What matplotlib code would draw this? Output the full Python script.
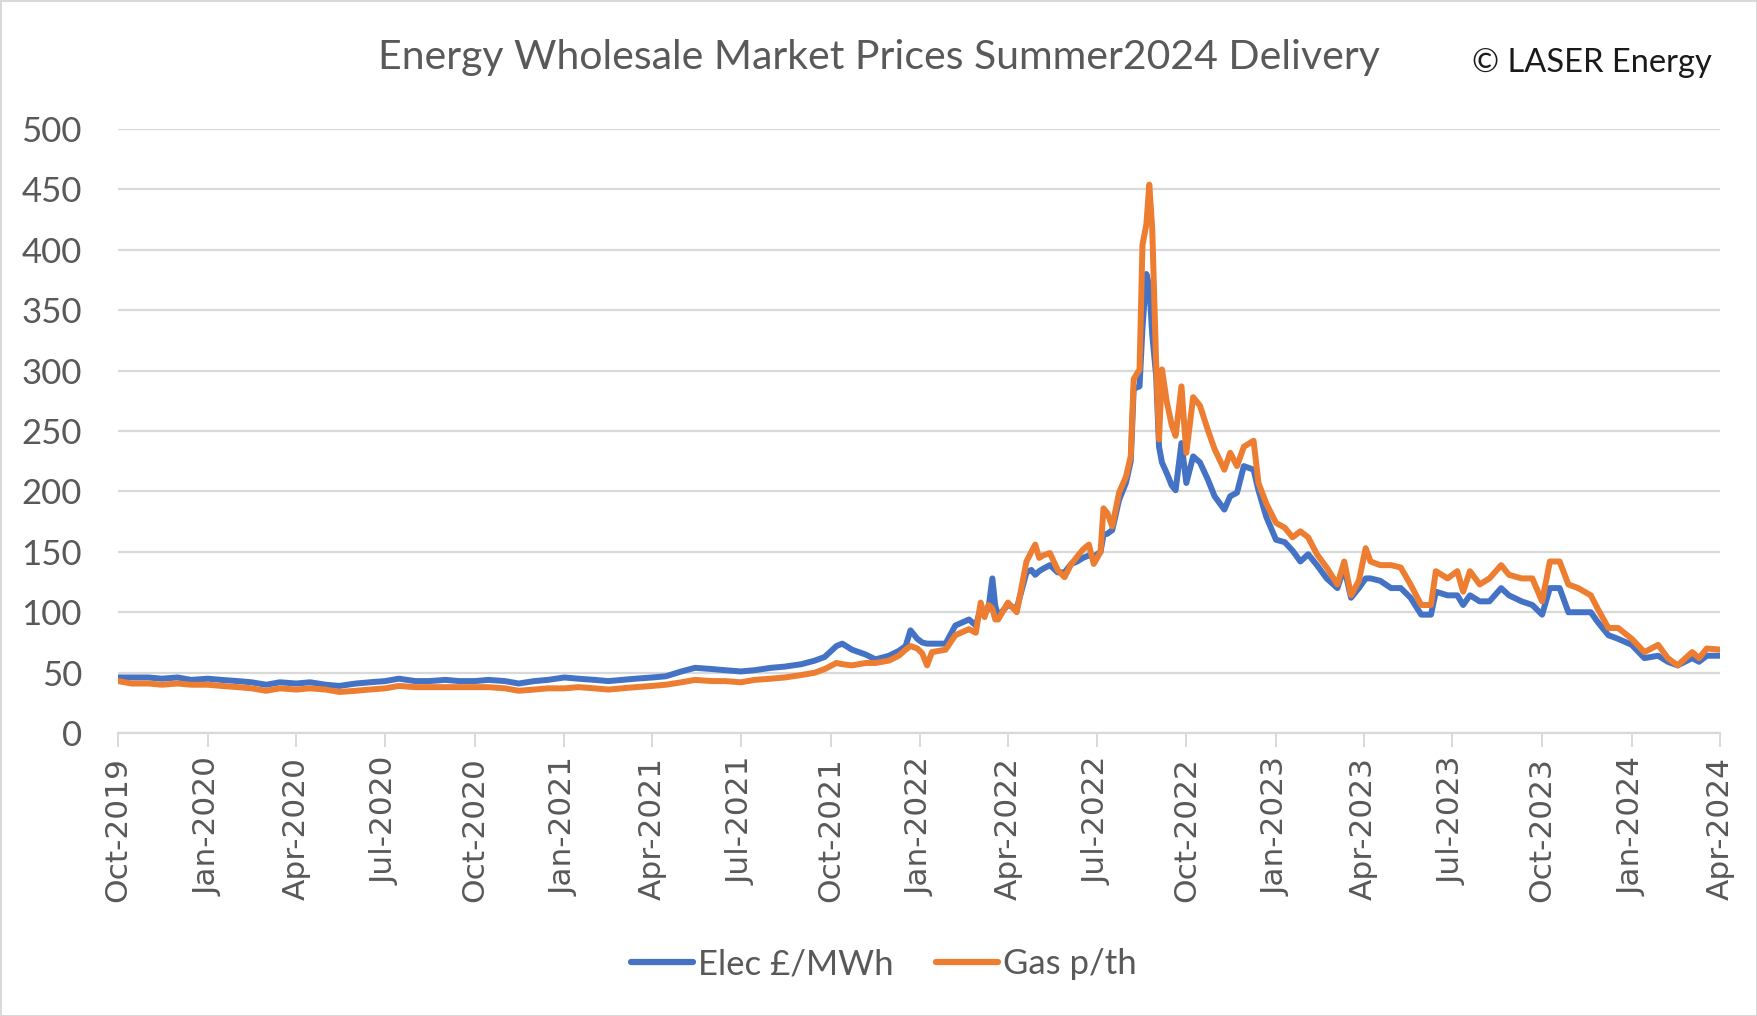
import matplotlib
matplotlib.use("Agg")
import matplotlib.pyplot as plt
import matplotlib.dates as mdates
import pandas as pd

# Values (Summer 2024 delivery contract)
dates = [
    "2019-10-01", "2019-10-15", "2019-11-01", "2019-11-15", "2019-12-01", "2019-12-15",
    "2020-01-01", "2020-01-15", "2020-02-01", "2020-02-15", "2020-03-01", "2020-03-15",
    "2020-04-01", "2020-04-15", "2020-05-01", "2020-05-15", "2020-06-01", "2020-06-15",
    "2020-07-01", "2020-07-15", "2020-08-01", "2020-08-15", "2020-09-01", "2020-09-15",
    "2020-10-01", "2020-10-15", "2020-11-01", "2020-11-15", "2020-12-01", "2020-12-15",
    "2021-01-01", "2021-01-15", "2021-02-01", "2021-02-15", "2021-03-01", "2021-03-15",
    "2021-04-01", "2021-04-15", "2021-05-01", "2021-05-15", "2021-06-01", "2021-06-15",
    "2021-07-01", "2021-07-15", "2021-08-01", "2021-08-15", "2021-09-01", "2021-09-15",
    "2021-09-25", "2021-10-07", "2021-10-13", "2021-10-23", "2021-11-06", "2021-11-16",
    "2021-11-30", "2021-12-10", "2021-12-17", "2021-12-22", "2021-12-29", "2022-01-03",
    "2022-01-08", "2022-01-13", "2022-01-27", "2022-02-06", "2022-02-20", "2022-02-27",
    "2022-03-04", "2022-03-08", "2022-03-12", "2022-03-16", "2022-03-19", "2022-03-22",
    "2022-04-01", "2022-04-10", "2022-04-20", "2022-04-25", "2022-04-29", "2022-05-03",
    "2022-05-07", "2022-05-14", "2022-05-22", "2022-05-29", "2022-06-05", "2022-06-11",
    "2022-06-17", "2022-06-23", "2022-06-28", "2022-07-05", "2022-07-08", "2022-07-12",
    "2022-07-17", "2022-07-24", "2022-07-31", "2022-08-05", "2022-08-08", "2022-08-14",
    "2022-08-17", "2022-08-21", "2022-08-24", "2022-08-27", "2022-08-31", "2022-09-03",
    "2022-09-06", "2022-09-11", "2022-09-16", "2022-09-20", "2022-09-26", "2022-10-01",
    "2022-10-08", "2022-10-15", "2022-10-23", "2022-10-30", "2022-11-09", "2022-11-15",
    "2022-11-22", "2022-11-29", "2022-12-09", "2022-12-14", "2022-12-22", "2023-01-01",
    "2023-01-10", "2023-01-18", "2023-01-26", "2023-02-03", "2023-02-12", "2023-02-22",
    "2023-03-05", "2023-03-12", "2023-03-19", "2023-03-27", "2023-04-03", "2023-04-08",
    "2023-04-18", "2023-04-29", "2023-05-09", "2023-05-19", "2023-05-30", "2023-06-09",
    "2023-06-14", "2023-06-26", "2023-07-06", "2023-07-12", "2023-07-19", "2023-07-29",
    "2023-08-08", "2023-08-20", "2023-08-28", "2023-09-10", "2023-09-21", "2023-10-01",
    "2023-10-09", "2023-10-19", "2023-10-28", "2023-11-07", "2023-11-20", "2023-11-27",
    "2023-12-08", "2023-12-18", "2024-01-01", "2024-01-14", "2024-01-28", "2024-02-07",
    "2024-02-17", "2024-03-03", "2024-03-10", "2024-03-18", "2024-04-01",
]

elec = [
    46, 46, 46, 45, 46, 44,
    45, 44, 43, 42, 40, 42,
    41, 42, 40, 39, 41, 42,
    43, 45, 43, 43, 44, 43,
    43, 44, 43, 41, 43, 44,
    46, 45, 44, 43, 44, 45,
    46, 47, 51, 54, 53, 52,
    51, 52, 54, 55, 57, 60,
    63, 72, 74, 69, 65, 61,
    64, 68, 72, 85, 78, 75,
    74, 74, 74, 89, 94, 89,
    103, 99, 103, 128, 105, 97,
    106, 103, 133, 135, 131, 134,
    136, 139, 133, 133, 140, 142,
    145, 147, 146, 150, 164, 165,
    168, 193, 207, 225, 285, 287,
    335, 380, 370, 330, 296, 237,
    224, 215, 205, 201, 240, 207,
    229, 224, 210, 196, 185, 196,
    199, 221, 218, 201, 179, 160,
    158, 151, 142, 148, 139, 128,
    120, 137, 112, 120, 128, 128,
    126, 120, 120, 112, 98, 98,
    117, 114, 114, 106, 114, 109,
    109, 120, 114, 109, 106, 98,
    120, 120, 100, 100, 100, 92,
    81, 78, 73, 62, 64, 59,
    56, 62, 59, 64, 64,
]

gas = [
    43, 41, 41, 40, 41, 40,
    40, 39, 38, 37, 35, 37,
    36, 37, 36, 34, 35, 36,
    37, 39, 38, 38, 38, 38,
    38, 38, 37, 35, 36, 37,
    37, 38, 37, 36, 37, 38,
    39, 40, 42, 44, 43, 43,
    42, 44, 45, 46, 48, 50,
    53, 58, 57, 56, 58, 58,
    60, 64, 69, 72, 70, 66,
    56, 67, 69, 81, 86, 83,
    108, 96, 106, 103, 94, 94,
    108, 100, 142, 150, 156, 145,
    147, 149, 135, 129, 140, 146,
    152, 156, 140, 150, 186, 182,
    171, 199, 212, 229, 293, 301,
    404, 421, 454, 418, 307, 243,
    301, 274, 255, 246, 287, 232,
    278, 271, 251, 235, 218, 232,
    221, 237, 242, 207, 190, 174,
    170, 162, 167, 162, 148, 137,
    123, 142, 114, 126, 153, 142,
    139, 139, 137, 123, 106, 106,
    134, 128, 134, 117, 134, 123,
    128, 139, 131, 128, 128, 109,
    142, 142, 123, 120, 114, 103,
    87, 87, 78, 67, 73, 62,
    56, 67, 62, 70, 69,
]

y_ticks = [0, 50, 100, 150, 200, 250, 300, 350, 400, 450, 500]

blue = "#4472C4"
orange = "#ED7D31"
text_grey = "#595959"
grid_grey = "#D9D9D9"

x = pd.to_datetime(dates)

fig = plt.figure(figsize=(17.57, 10.16), dpi=100)
fig.patch.set_edgecolor(grid_grey)
fig.patch.set_linewidth(2)
ax = fig.add_axes([0.0672, 0.2785, 0.912, 0.5945])

ax.plot(x, elec, color=blue, lw=4.3, solid_joinstyle="round", label="Elec £/MWh", zorder=3)
ax.plot(x, gas, color=orange, lw=4.3, solid_joinstyle="round", label="Gas p/th", zorder=4)

ax.set_xlim(pd.Timestamp("2019-10-01"), pd.Timestamp("2024-04-01"))
ax.set_ylim(0, 500)
ax.set_yticks(y_ticks)
ax.yaxis.grid(True, color=grid_grey, lw=1.6)
ax.set_axisbelow(True)

ax.xaxis.set_major_locator(mdates.MonthLocator(bymonth=[1, 4, 7, 10]))
ax.xaxis.set_major_formatter(mdates.DateFormatter("%b-%Y"))

for s in ["top", "right", "left"]:
    ax.spines[s].set_visible(False)
ax.spines["bottom"].set_color(grid_grey)
ax.spines["bottom"].set_linewidth(1.6)

ax.tick_params(axis="y", length=0, pad=26, labelsize=25, labelcolor=text_grey)
ax.tick_params(axis="x", length=10, width=1.4, color=grid_grey, pad=7,
               labelsize=22.5, labelcolor=text_grey, labelrotation=90)
for lab in ax.get_yticklabels():
    lab.set_fontfamily("Lato")
for lab in ax.get_xticklabels():
    lab.set_fontfamily("DejaVu Sans")

fig.text(0.5, 0.943, "Energy Wholesale Market Prices Summer2024 Delivery",
         ha="center", va="center", fontsize=29.5, color=text_grey, family="Lato")
fig.text(0.9745, 0.938, "© LASER Energy", ha="right", va="center",
         fontsize=23.5, color="#1a1a1a", family="Lato")

leg = fig.legend(loc="center", bbox_to_anchor=(0.503, 0.051), ncol=2, frameon=False,
                 prop={"family": "Lato", "size": 25}, handlelength=1.8,
                 handletextpad=0.15, columnspacing=1.2)
for t in leg.get_texts():
    t.set_color(text_grey)
for h in leg.get_lines():
    h.set_linewidth(4.5)
    h.set_solid_capstyle("round")

fig.savefig("out.png", dpi=100)
